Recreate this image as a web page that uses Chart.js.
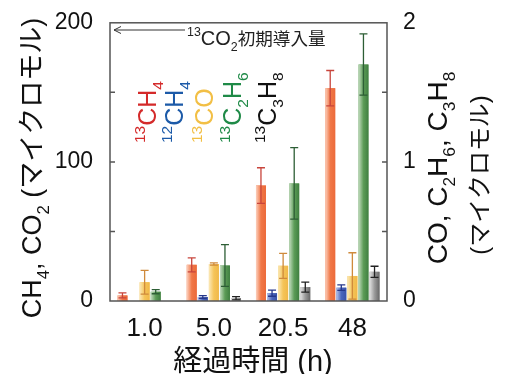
<!DOCTYPE html>
<html>
<head>
<meta charset="utf-8">
<script src="https://cdn.jsdelivr.net/npm/chart.js@4.4.1/dist/chart.umd.min.js"></script>
<style>
  html, body { margin: 0; padding: 0; background: #fff; }
  canvas { display: block; }
</style>
</head>
<body>
<canvas id="chart" width="513" height="374"></canvas>
<script>
// elapsed time (h)
const hours = ['1.0', '5.0', '20.5', '48'];

// left axis: CH4 (umol)
const ch4_13 = [4.0, 26, 83, 153];
const ch4_13Err = [1.8, 5, 12.8, 12.7];
const ch4_12 = [null, 2.9, 5.6, 9.6];
const ch4_12Err = [null, 1.0, 2.2, 2.0];

// right axis: CO, C2H6, C3H8 (umol)
const co_13 = [0.135, 0.266, 0.253, 0.18];
const co_13Err = [0.085, 0.008, 0.09, 0.167];
const c2h6_13 = [0.067, 0.255, 0.845, 1.70];
const c2h6_13Err = [0.015, 0.15, 0.257, 0.22];
const c3h8_13 = [null, 0.02, 0.10, 0.21];
const c3h8_13Err = [null, 0.012, 0.036, 0.04];

const leftTicks = [0, 100, 200];
const rightTicks = [0, 1, 2];
const leftMarks = [50, 100, 150];
const rightMarks = [0.5, 1, 1.5];

const FONT = "'Liberation Sans', 'Noto Sans CJK JP', sans-serif";

const series = [
  { label: '13CH4', data: ch4_13, err: ch4_13Err, axis: 'y',
    light: '#fcd0bd', base: '#f07848', dark: '#ec6a3a', errColor: '#c8453c', text: '#d42a2a',
    parts: [['13', 'sup'], ['CH'], ['4', 'sub']] },
  { label: '12CH4', data: ch4_12, err: ch4_12Err, axis: 'y',
    light: '#b8c4ea', base: '#4a66bd', dark: '#3a52a8', errColor: '#26378a', text: '#1c5aa8',
    parts: [['12', 'sup'], ['CH'], ['4', 'sub']] },
  { label: '13CO', data: co_13, err: co_13Err, axis: 'y1',
    light: '#fbe9b8', base: '#f5c458', dark: '#f0b848', errColor: '#cf8a3c', text: '#f2bf45',
    parts: [['13', 'sup'], ['CO']] },
  { label: '13C2H6', data: c2h6_13, err: c2h6_13Err, axis: 'y1',
    light: '#c3dcbf', base: '#5c9c57', dark: '#3f7f40', errColor: '#2d5e35', text: '#1f8a47',
    parts: [['13', 'sup'], ['C'], ['2', 'sub'], ['H'], ['6', 'sub']] },
  { label: '13C3H8', data: c3h8_13, err: c3h8_13Err, axis: 'y1',
    light: '#e2e2e2', base: '#9a9a9a', dark: '#686868', errColor: '#222222', text: '#111111',
    parts: [['13', 'sup'], ['C'], ['3', 'sub'], ['H'], ['8', 'sub']] },
];

// rich text with super/subscripts, drawn along the current x direction
function partFont(p, size) {
  const k = p[2] || (p[1] ? 0.62 : 1);
  return (size * k) + 'px ' + FONT;
}
function richWidth(ctx, parts, size) {
  let w = 0;
  parts.forEach(p => { ctx.font = partFont(p, size); w += ctx.measureText(p[0]).width; });
  return w;
}
function drawRich(ctx, parts, x, y, size, color) {
  ctx.fillStyle = color;
  ctx.textBaseline = 'alphabetic';
  ctx.textAlign = 'left';
  let cx = x;
  parts.forEach(p => {
    ctx.font = partFont(p, size);
    const dy = p[1] === 'sup' ? -size * 0.45 : p[1] === 'sub' ? size * 0.28 : 0;
    ctx.fillText(p[0], cx, y + dy);
    cx += ctx.measureText(p[0]).width;
  });
}
function drawRotated(ctx, parts, bx, cy, size, color, centered) {
  ctx.save();
  ctx.translate(bx, cy);
  ctx.rotate(-Math.PI / 2);
  const w = centered ? richWidth(ctx, parts, size) : 0;
  drawRich(ctx, parts, -w / 2, 0, size, color);
  ctx.restore();
}

const decor = {
  id: 'decor',
  afterDatasetsDraw(chart) {
    const ctx = chart.ctx, a = chart.chartArea;
    ctx.save();
    // shaded bars
    series.forEach((s, i) => {
      chart.getDatasetMeta(i).data.forEach((bar, j) => {
        if (s.data[j] == null) return;
        const p = bar.getProps(['x', 'y', 'base', 'width'], true);
        const l = p.x - p.width / 2;
        const g = ctx.createLinearGradient(l, 0, l + p.width, 0);
        g.addColorStop(0, s.light);
        g.addColorStop(0.5, s.base);
        g.addColorStop(1, s.dark);
        ctx.fillStyle = g;
        ctx.fillRect(l, p.y, p.width, p.base - p.y);
      });
    });
    // error bars
    series.forEach((s, i) => {
      const ys = chart.scales[s.axis];
      ctx.strokeStyle = s.errColor;
      ctx.lineWidth = 1.3;
      chart.getDatasetMeta(i).data.forEach((bar, j) => {
        if (s.data[j] == null) return;
        const x = bar.x;
        const t = ys.getPixelForValue(s.data[j] + s.err[j]);
        const b = ys.getPixelForValue(Math.max(0, s.data[j] - s.err[j]));
        ctx.beginPath();
        ctx.moveTo(x, t); ctx.lineTo(x, b);
        ctx.moveTo(x - 4, t); ctx.lineTo(x + 4, t);
        ctx.moveTo(x - 4, b); ctx.lineTo(x + 4, b);
        ctx.stroke();
      });
    });
    // frame and inward ticks
    ctx.strokeStyle = '#555';
    ctx.lineWidth = 1.5;
    ctx.strokeRect(a.left, a.top, a.width, a.height);
    ctx.beginPath();
    leftMarks.forEach(v => {
      const y = chart.scales.y.getPixelForValue(v);
      ctx.moveTo(a.left, y); ctx.lineTo(a.left + 5, y);
    });
    rightMarks.forEach(v => {
      const y = chart.scales.y1.getPixelForValue(v);
      ctx.moveTo(a.right, y); ctx.lineTo(a.right - 5, y);
    });
    ctx.stroke();

    // legend, rotated
    const legendX = [156, 183, 213, 241, 276];
    series.forEach((s, i) => drawRotated(ctx, s.parts, legendX[i], 143, 25, s.text, false));

    // initial 13CO2 arrow
    ctx.strokeStyle = '#333';
    ctx.lineWidth = 1;
    ctx.beginPath();
    ctx.moveTo(a.left + 4, 30); ctx.lineTo(185, 30);
    ctx.moveTo(a.left + 11, 26.5); ctx.lineTo(a.left + 4, 30); ctx.lineTo(a.left + 11, 33.5);
    ctx.stroke();
    drawRich(ctx, [['13', 'sup'], ['CO'], ['2', 'sub'], ['初期導入量', null, 0.88]], 187, 45, 20, '#222');

    // axis titles
    drawRotated(ctx, [['CH'], ['4', 'sub'], [', CO'], ['2', 'sub'], [' (マイクロモル)']], 41, 168, 27, '#111', true);
    drawRotated(ctx, [['CO, C'], ['2', 'sub'], ['H'], ['6', 'sub'], [', C'], ['3', 'sub'], ['H'], ['8', 'sub']], 447, 168, 28, '#111', true);
    drawRotated(ctx, [['(マイクロモル)', null, 0.92]], 488, 175, 26, '#111', true);
    ctx.font = '29px ' + FONT;
    ctx.fillStyle = '#111';
    ctx.textAlign = 'center';
    ctx.textBaseline = 'alphabetic';
    ctx.fillText('経過時間 (h)', 253, 371);
    ctx.restore();
  }
};

const ctx = document.getElementById('chart').getContext('2d');
new Chart(ctx, {
  type: 'bar',
  data: {
    labels: hours,
    datasets: series.map(s => ({
      label: s.label,
      data: s.data,
      yAxisID: s.axis,
      backgroundColor: s.base,
      borderWidth: 0,
      categoryPercentage: 0.8,
      barPercentage: 0.9,
    })),
  },
  options: {
    responsive: false,
    animation: false,
    layout: { padding: { top: 21 } },
    plugins: { legend: { display: false }, tooltip: { enabled: false } },
    scales: {
      x: {
        grid: { display: false },
        border: { display: false },
        ticks: { font: { family: FONT, size: 26 }, color: '#111', padding: 4 },
        afterFit(scale) { scale.height = 73; },
      },
      y: {
        position: 'left',
        min: 0, max: 200,
        afterBuildTicks(scale) { scale.ticks = leftTicks.map(v => ({ value: v })); },
        grid: { display: false },
        border: { display: false },
        ticks: { font: { family: FONT, size: 23 }, color: '#111', padding: 9 },
        afterFit(scale) { scale.width = 110; },
      },
      y1: {
        position: 'right',
        min: 0, max: 2,
        afterBuildTicks(scale) { scale.ticks = rightTicks.map(v => ({ value: v })); },
        grid: { display: false },
        border: { display: false },
        ticks: { font: { family: FONT, size: 23 }, color: '#111', padding: 8 },
        afterFit(scale) { scale.width = 126; },
      },
    },
  },
  plugins: [decor],
});
</script>
</body>
</html>
